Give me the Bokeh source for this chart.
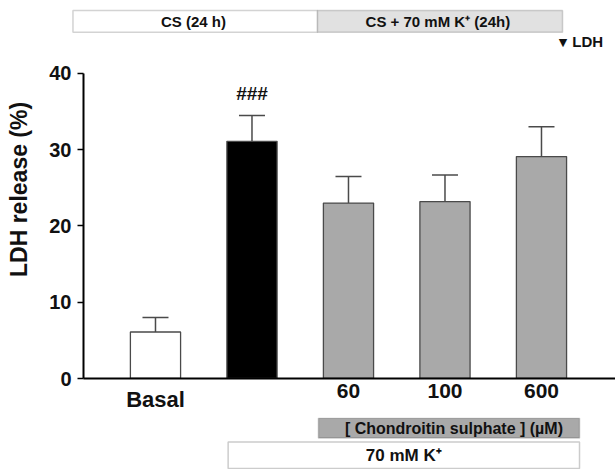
from bokeh.plotting import figure
from bokeh.layouts import column
from bokeh.models import (ColumnDataSource, Range1d, FixedTicker, Whisker, TeeHead,
                          BoxAnnotation, Label, LinearAxis)
from bokeh.embed import file_html
from bokeh.resources import INLINE

# ---- data ----
groups = ["Basal", "K+", "CS 60", "CS 100", "CS 600"]
ldh_mean = [6.1, 31.1, 23.0, 23.2, 29.1]
ldh_sem = [1.9, 3.4, 3.5, 3.5, 3.9]
bar_colors = ["#ffffff", "#000000", "#a9a9a9", "#a9a9a9", "#a9a9a9"]
cs_conc_labels = ["60", "100", "600"]
y_ticks = [0, 10, 20, 30, 40]

FONT = "Liberation Sans"
TXT = "#111111"
W = 615
TOP_H = 51
# x mapping shared by all panels: bar i centre at 155 + 96.5*i px
X_FULL = (-1.606, 4.767)
X_MAIN = (-0.746, 4.767)


def no_align(f):
    try:
        f.frame_align = False
    except Exception:
        pass


def bare(height, y0, y1):
    f = figure(width=W, height=height, output_backend="svg", toolbar_location=None,
               x_range=Range1d(*X_FULL), y_range=Range1d(y1, y0),
               x_axis_location=None, y_axis_location=None, min_border=0)
    f.outline_line_color = None
    f.grid.visible = False
    no_align(f)
    return f


def lab(fig, x, y, text, size, bold=True, align="center", font=FONT):
    fig.add_layout(Label(x=x, y=y, text=text, text_font=font,
                         text_font_style="bold" if bold else "normal",
                         text_font_size=size, text_align=align,
                         text_baseline="middle", text_color=TXT))


# ---------- top protocol strip (page y 0..51) ----------
top = bare(TOP_H, 0, TOP_H)
top.add_layout(BoxAnnotation(left=-0.855, right=1.679, top=10, bottom=31.7,
                             fill_color="white", fill_alpha=1, line_color="#6e6e6e",
                             line_width=1.5))
top.add_layout(BoxAnnotation(left=1.679, right=4.218, top=10, bottom=31.7,
                             fill_color="#e1e1e1", fill_alpha=1, line_color="#6e6e6e",
                             line_width=1.5))
lab(top, 0.415, 21, "CS  (24 h)", "15px")
lab(top, 2.948, 21, "CS + 70 mM K\u207a  (24h)", "15px")
lab(top, 4.224, 41.5, "\u25bc", "11px", bold=False, font="DejaVu Sans")
lab(top, 4.32, 40.5, "LDH", "15px", align="left")

# ---------- main chart (page y 51..417) ----------
xs = list(range(len(groups)))
upper = [m + s for m, s in zip(ldh_mean, ldh_sem)]
src = ColumnDataSource(dict(x=xs, top=ldh_mean, upper=upper, color=bar_colors))

p = figure(width=W, height=366, output_backend="svg", toolbar_location=None,
           x_range=Range1d(*X_MAIN), y_range=Range1d(0, 42.885),
           min_border_left=83, min_border_right=0, min_border_top=0,
           min_border_bottom=39)
p.outline_line_color = None
p.grid.visible = False
no_align(p)

p.vbar(x="x", top="top", width=0.52, source=src, fill_color="color",
       line_color="#4a4a4a", line_width=1.3)
p.add_layout(Whisker(source=src, base="x", upper="upper", lower="top",
                     line_color="#4a4a4a", line_width=1.5,
                     upper_head=TeeHead(size=26, line_color="#4a4a4a", line_width=1.5),
                     lower_head=None))
lab(p, 1, 37.4, "###", "19px")

ya = p.yaxis[0]
ya.ticker = FixedTicker(ticks=y_ticks)
ya.bounds = (0, 40)
ya.axis_line_width = 2
ya.major_tick_line_width = 1.5
ya.major_tick_out = 6
ya.major_tick_in = 0
ya.minor_tick_out = 0
ya.minor_tick_in = 0
ya.major_label_text_font = FONT
ya.major_label_text_font_style = "bold"
ya.major_label_text_font_size = "20px"
ya.major_label_text_color = TXT
ya.major_label_standoff = 6
# leading no-break spaces lift the label to where it sits in the reference
ya.axis_label = "\u00a0" * 8 + "LDH release (%)"
ya.axis_label_text_font = FONT
ya.axis_label_text_font_style = "bold"
ya.axis_label_text_font_size = "23px"
ya.axis_label_text_color = TXT
ya.axis_label_standoff = 14

xa = p.xaxis[0]
xa.ticker = FixedTicker(ticks=[2, 3, 4])
xa.major_label_overrides = {2 + i: t for i, t in enumerate(cs_conc_labels)}
xa.axis_line_width = 2
xa.major_tick_out = 0
xa.major_tick_in = 0
xa.minor_tick_out = 0
xa.minor_tick_in = 0
xa.major_label_text_font = FONT
xa.major_label_text_font_style = "bold"
xa.major_label_text_font_size = "21px"
xa.major_label_text_color = TXT
xa.major_label_standoff = 5

xb = LinearAxis(ticker=FixedTicker(ticks=[0]), major_label_overrides={0: groups[0]},
                axis_line_color=None, major_tick_out=0, major_tick_in=0,
                minor_tick_out=0, minor_tick_in=0,
                major_label_text_font=FONT, major_label_text_font_style="bold",
                major_label_text_font_size="22px", major_label_text_color=TXT,
                major_label_standoff=-14)
p.add_layout(xb, "below")

# ---------- bottom treatment boxes (page y 417..469) ----------
bot = bare(52, 417, 469)
bot.add_layout(BoxAnnotation(left=1.689, right=4.394, top=417.8, bottom=437.5,
                             fill_color="#a9a9a9", fill_alpha=1, line_color="#555555",
                             line_width=1.5))
lab(bot, 3.093, 427.7, "[ Chondroitin sulphate ] (\u00b5M)", "16px")
bot.add_layout(BoxAnnotation(left=0.753, right=4.394, top=441.5, bottom=468,
                             fill_color="white", fill_alpha=1, line_color="#555555",
                             line_width=1.5))
lab(bot, 2.573, 455, "70 mM K\u207a", "17px")

layout = column(top, p, bot, spacing=0)
open("out.html", "w").write(file_html(layout, INLINE))
